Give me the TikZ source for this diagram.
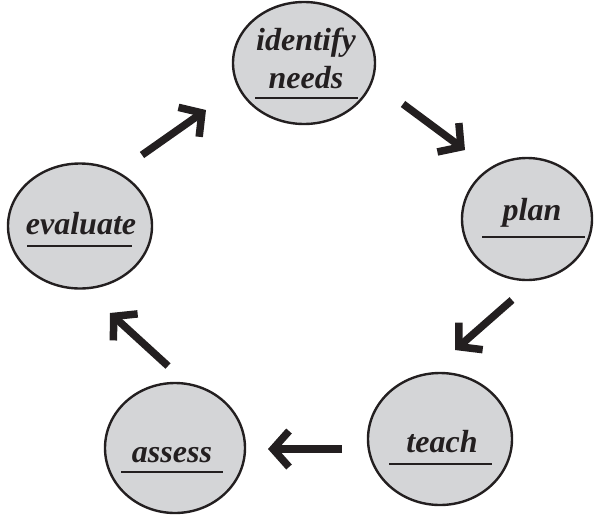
\documentclass[tikz,border=0pt]{standalone}
\usepackage{fontspec}
\setmainfont{Liberation Serif}[BoldItalicFont={Liberation Serif Bold Italic}]
\usetikzlibrary{shapes.geometric,arrows.meta}
\definecolor{disc}{HTML}{D4D5D7}
\definecolor{ink}{HTML}{231F20}
\tikzset{
  stage/.style={ellipse, draw=ink, line width=2.4pt, fill=disc, inner sep=0pt},
  lbl/.style={anchor=base, inner sep=0pt, text=ink, font=\fontsize{32}{38}\selectfont\bfseries\itshape, align=center},
  uline/.style={draw=ink, line width=2.4pt},
  flow/.style={draw=ink, line width=7.5pt, line join=miter, -{Straight Barb[length=16pt, width=36pt, line join=miter]}},
}
\begin{document}
\begin{tikzpicture}[x=1pt,y=-1pt]
\useasboundingbox (0,0) rectangle (596,514);
% stages
\node[stage, minimum width=142pt, minimum height=122pt] (id) at (304,63) {};
\node[stage, minimum width=130pt, minimum height=122pt] (pl) at (527,219) {};
\node[stage, minimum width=144pt, minimum height=132pt] (te) at (440,439) {};
\node[stage, minimum width=140pt, minimum height=130pt] (as) at (175,448) {};
\node[stage, minimum width=144pt, minimum height=125pt] (ev) at (80,226) {};
% labels
\node[lbl] (idt) at (306,50) {identify};
\node[lbl] (idn) at (306,88) {needs};
\node[lbl] (plt) at (532,220) {plan};
\node[lbl] (tet) at (442,452) {teach};
\node[lbl] (ast) at (172,462) {assess};
\node[lbl] (evt) at (81,234) {evaluate};
% underlines
\draw[uline] (255,98) -- (358,98);
\draw[uline] (482,237) -- (585,237);
\draw[uline] (389,464) -- (492,464);
\draw[uline] (121,472) -- (223,472);
\draw[uline] (27,246) -- (132,246);
% arrow ends
\coordinate (a1s) at (142,155); \coordinate (a1e) at (206,110);
\coordinate (a2s) at (403,104); \coordinate (a2e) at (465,150);
\coordinate (a3s) at (512,300); \coordinate (a3e) at (455,350);
\coordinate (a4s) at (342,449); \coordinate (a4e) at (268,449);
\coordinate (a5s) at (168,366); \coordinate (a5e) at (110,313);
\draw[flow] (a1s) -- (a1e);
\draw[flow] (a2s) -- (a2e);
\draw[flow] (a3s) -- (a3e);
\draw[flow] (a4s) -- (a4e);
\draw[flow] (a5s) -- (a5e);
\end{tikzpicture}
\end{document}
